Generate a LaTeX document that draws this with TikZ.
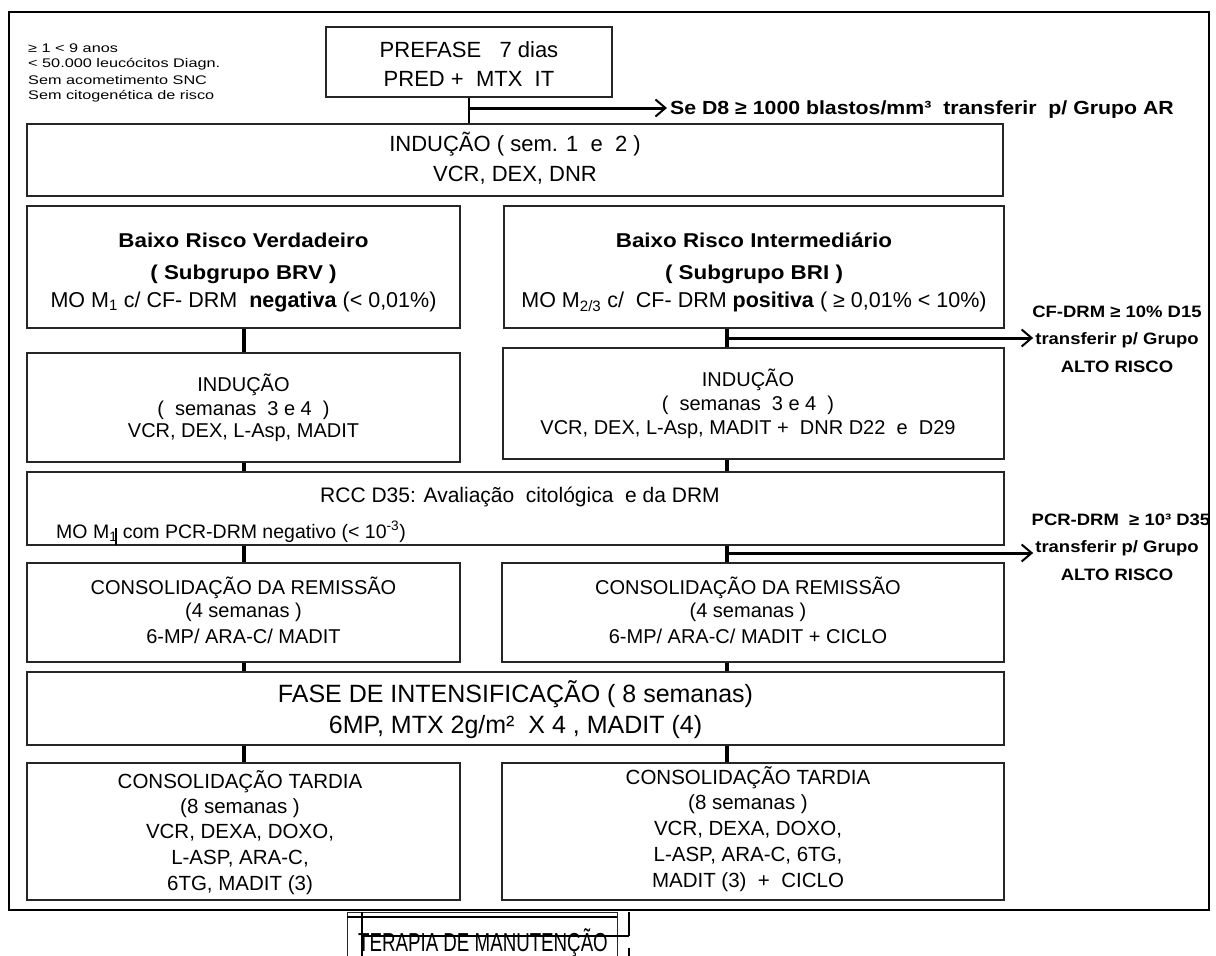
\documentclass[tikz,border=0pt]{standalone}
\usepackage{fontspec}
\setmainfont{Liberation Sans}
\newfontfamily\wideb{Liberation Sans}[FakeStretch=1.12]
\newfontfamily\critf{Liberation Sans}[FakeStretch=1.3]
\newfontfamily\narrowf{Liberation Sans}[FakeStretch=0.72]
\usetikzlibrary{arrows.meta}
\newcommand\fsz[1]{\fontsize{#1}{#1}\selectfont}

\begin{document}
\begin{tikzpicture}[x=1pt,y=-1pt,
  box/.style={draw=black!85,line width=1.4pt,inner sep=0pt},
  conn/.style={draw=black,line width=4pt},
  hair/.style={draw=black,line width=1.2pt},
  arr/.style={draw=black,line width=3pt,-{Straight Barb[length=10pt,width=17pt,line width=2pt]}},
  reg/.style={inner sep=0pt,font=\fsz{#1}},
  reg/.default=20,
  bld/.style={inner sep=0pt,font=\wideb\bfseries\fsz{#1}},
  bld/.default=20,
  crit/.style={inner sep=0pt,anchor=west,font=\critf\fsz{12.5}},
]
\useasboundingbox (0,0) rectangle (1216,956);
\fill[white] (0,0) rectangle (1216,956);

% outer frame
\draw[line width=1.2pt] (9,12) rectangle (1209,910);

% column guides for the connectors
\coordinate (lcol) at (243.5,0);
\coordinate (rcol) at (727,0);

% inclusion criteria
\node[crit] (c1) at (28,48) {≥ 1 < 9 anos};
\node[crit] (c2) at (28,64) {< 50.000 leucócitos Diagn.};
\node[crit] (c3) at (28,80) {Sem acometimento SNC};
\node[crit] (c4) at (28,96) {Sem citogenética de risco};

% boxes
\node[box,minimum width=286,minimum height=70] (pre) at (469,62) {};
\node[box,minimum width=976,minimum height=72] (ind) at (515,160) {};
\node[box,minimum width=433,minimum height=122] (brv) at (243.5,267) {};
\node[box,minimum width=500,minimum height=122] (bri) at (754,267) {};
\node[box,minimum width=433,minimum height=109] (indl) at (243.5,407.5) {};
\node[box,minimum width=501,minimum height=111] (indr) at (753.5,403.5) {};
\node[box,minimum width=977,minimum height=73] (rcc) at (515.5,508.5) {};
\node[box,minimum width=433,minimum height=99] (consl) at (243.5,612.5) {};
\node[box,minimum width=502,minimum height=99] (consr) at (753,612.5) {};
\node[box,minimum width=977,minimum height=73] (fase) at (515.5,708.5) {};
\node[box,minimum width=433,minimum height=137] (tardl) at (243.5,831.5) {};
\node[box,minimum width=502,minimum height=137] (tardr) at (753,831.5) {};
\node[box,minimum width=270,minimum height=60,anchor=north west] (ter) at (347,912) {};

% prephase
\node[reg=22] (p1) at (469,50) {PREFASE\ \ \ 7 dias};
\node[reg=22] (p2) at (469,79) {PRED +\ \ MTX\ \ IT};
\node[bld=19,anchor=west,inner sep=3pt] (l1) at (667,110) {Se D8 ≥ 1000 blastos/mm³\ \ transferir\ \ p/ Grupo AR};

% induction weeks 1-2
\node[reg=22] (i1) at (515,144) {INDUÇÃO ( sem. 1\ \ e\ \ 2 )};
\node[reg=22] (i2) at (515,175) {VCR, DEX, DNR};

% risk subgroups
\node[bld] (v1) at (243.5,240) {Baixo Risco Verdadeiro};
\node[bld] (v2) at (243.5,274) {( Subgrupo BRV )};
\node[reg=21.5] (v3) at (243.5,302) {MO M\textsubscript{1} c/ CF- DRM\ \ \textbf{negativa} (< 0,01\%)};
\node[bld] (b1) at (754,240) {Baixo Risco Intermediário};
\node[bld] (b2) at (754,274) {( Subgrupo BRI )};
\node[reg=21.5] (b3) at (754,302) {MO M\textsubscript{2/3} c/\ \ CF- DRM \textbf{positiva} ( ≥ 0,01\% < 10\%)};

% high-risk transfer after D15
\node[bld=16.5] (l2a) at (1117,312) {CF-DRM ≥ 10\% D15};
\node[bld=16.5,inner sep=2pt] (l2b) at (1117,340) {transferir p/ Grupo};
\node[bld=16.5] (l2c) at (1117,367) {ALTO RISCO};

% induction weeks 3-4
\node[reg] (n1) at (243.5,385) {INDUÇÃO};
\node[reg] (n2) at (243.5,410) {(\ \ semanas\ \ 3 e 4\ \ )};
\node[reg] (n3) at (243.5,433) {VCR, DEX, L-Asp, MADIT};
\node[reg] (r1) at (748,380) {INDUÇÃO};
\node[reg] (r2) at (748,405) {(\ \ semanas\ \ 3 e 4\ \ )};
\node[reg] (r3) at (748,430) {VCR, DEX, L-Asp, MADIT +\ \ DNR D22\ \ e\ \ D29};

% D35 evaluation
\node[reg=21] (e1) at (520,497) {RCC D35: Avaliação\ \ citológica\ \ e da DRM};
\node[reg=19.5,anchor=west] (e2) at (56,532) {MO M\textsubscript{1} com PCR-DRM negativo (< 10\textsuperscript{-3})};
\draw[hair] (116,528) -- (116,545);

% high-risk transfer after D35
\node[bld=16.5] (l3a) at (1121,520) {PCR-DRM\ \ ≥ 10³ D35};
\node[bld=16.5,inner sep=2pt] (l3b) at (1117,548) {transferir p/ Grupo};
\node[bld=16.5] (l3c) at (1117,575) {ALTO RISCO};

% consolidation
\node[reg] (k1) at (243.5,588) {CONSOLIDAÇÃO DA REMISSÃO};
\node[reg] (k2) at (243.5,612) {(4 semanas )};
\node[reg] (k3) at (243.5,636) {6-MP/ ARA-C/ MADIT};
\node[reg] (q1) at (748,588) {CONSOLIDAÇÃO DA REMISSÃO};
\node[reg] (q2) at (748,612) {(4 semanas )};
\node[reg] (q3) at (748,636) {6-MP/ ARA-C/ MADIT + CICLO};

% intensification
\node[reg=25] (f1) at (515.5,694) {FASE DE INTENSIFICAÇÃO ( 8 semanas)};
\node[reg=25] (f2) at (515.5,727) {6MP, MTX 2g/m²\ \ X 4 , MADIT (4)};

% late consolidation
\node[reg=20.5] (t1) at (240,782) {CONSOLIDAÇÃO TARDIA};
\node[reg=20.5] (t2) at (240,808) {(8 semanas )};
\node[reg=20.5] (t3) at (240,833) {VCR, DEXA, DOXO,};
\node[reg=20.5] (t4) at (240,859) {L-ASP, ARA-C,};
\node[reg=20.5] (t5) at (240,885) {6TG, MADIT (3)};
\node[reg=20.5] (s1) at (748,778) {CONSOLIDAÇÃO TARDIA};
\node[reg=20.5] (s2) at (748,804) {(8 semanas )};
\node[reg=20.5] (s3) at (748,830) {VCR, DEXA, DOXO,};
\node[reg=20.5] (s4) at (748,856) {L-ASP, ARA-C, 6TG,};
\node[reg=20.5] (s5) at (748,882) {MADIT (3)\ \ +\ \ CICLO};

% maintenance
\draw[hair] (347,917) -- (617,917);
\node[inner sep=0pt,font=\narrowf\fsz{26}] (tt) at (483,943) {TERAPIA DE MANUTENÇÃO};
\draw[hair] (362,912) -- (362,960);
\draw[hair] (362,936) -- (629,936);
\draw[hair] (629,912) -- (629,936);
\draw[hair] (629,948) -- (629,960);

% connectors
\coordinate (a1) at (469,108);
\coordinate (a2) at (727,338);
\coordinate (a3) at (727,553);
\draw[hair] (pre.south) -- (ind.north -| pre.south);
\draw[arr] (a1) -- (a1 -| l1.west);
\draw[conn] (brv.south) -- (indl.north);
\draw[conn] (bri.south -| rcol) -- (indr.north -| rcol);
\draw[arr] (a2) -- (a2 -| l2b.west);
\draw[conn] (indl.south) -- (rcc.north -| indl.south);
\draw[conn] (indr.south -| rcol) -- (rcc.north -| rcol);
\draw[conn] (rcc.south -| lcol) -- (consl.north);
\draw[conn] (rcc.south -| rcol) -- (consr.north -| rcol);
\draw[arr] (a3) -- (a3 -| l3b.west);
\draw[conn] (consl.south) -- (fase.north -| consl.south);
\draw[conn] (consr.south -| rcol) -- (fase.north -| rcol);
\draw[conn] (fase.south -| lcol) -- (tardl.north);
\draw[conn] (fase.south -| rcol) -- (tardr.north -| rcol);
\end{tikzpicture}
\end{document}
